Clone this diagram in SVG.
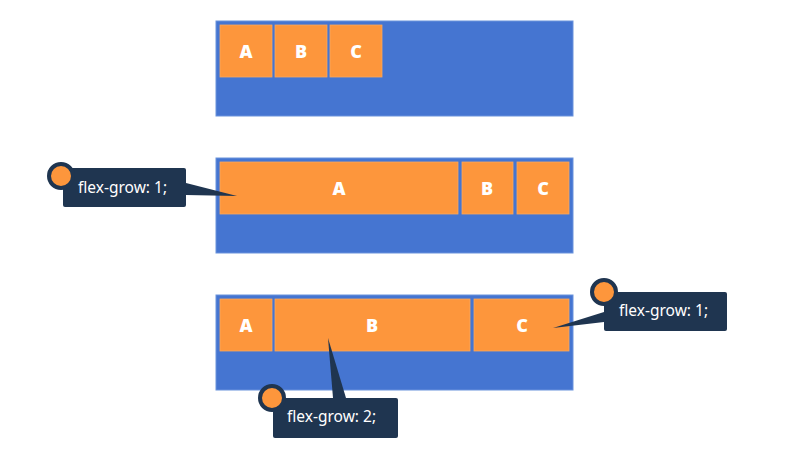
<svg xmlns="http://www.w3.org/2000/svg" width="801" height="452" viewBox="0 0 801 452">
<style>
.cont{fill:#4575d1;stroke:#6a93dc;stroke-width:1}
.item{fill:#fd963c;stroke:#f7a860;stroke-width:0.8}
.lbl{font-family:"Open Sans","Liberation Sans",sans-serif;font-weight:800;font-size:18px;fill:#ffffff;text-anchor:middle}
.box{fill:#1f3550}
.dot{fill:#fd963c;stroke:#1f3550;stroke-width:4}
.ct{font-family:"Noto Sans","Liberation Sans",sans-serif;font-size:15.5px;fill:#ffffff}
</style>
<rect width="801" height="452" fill="#ffffff"/>
<g id="container1">
<rect class="cont" x="216" y="21" width="357" height="95"/>
<g id="c1-A"><rect class="item" x="220" y="25" width="52" height="52"/><text class="lbl" x="246" y="58">A</text></g>
<g id="c1-B"><rect class="item" x="275" y="25" width="52" height="52"/><text class="lbl" x="301" y="58">B</text></g>
<g id="c1-C"><rect class="item" x="330" y="25" width="52" height="52"/><text class="lbl" x="356" y="58">C</text></g>
</g>
<g id="container2">
<rect class="cont" x="216" y="158" width="357" height="95"/>
<g id="c2-A"><rect class="item" x="220" y="162" width="238" height="52"/><text class="lbl" x="339" y="195">A</text></g>
<g id="c2-B"><rect class="item" x="462" y="162" width="51" height="52"/><text class="lbl" x="487" y="195">B</text></g>
<g id="c2-C"><rect class="item" x="517" y="162" width="52" height="52"/><text class="lbl" x="543" y="195">C</text></g>
</g>
<g id="container3">
<rect class="cont" x="216" y="295" width="357" height="95"/>
<g id="c3-A"><rect class="item" x="220" y="299" width="52" height="52"/><text class="lbl" x="246" y="332">A</text></g>
<g id="c3-B"><rect class="item" x="275" y="299" width="195" height="52"/><text class="lbl" x="372" y="332">B</text></g>
<g id="c3-C"><rect class="item" x="474" y="299" width="95" height="52"/><text class="lbl" x="522" y="332">C</text></g>
</g>
<g id="connectors">
<polygon class="box" points="186,183 237,196 186,195"/>
<polygon class="box" points="604,312 553,328 604,322"/>
<polygon class="box" points="328,338 333,398 346,398"/>
</g>
<g id="callout1">
<rect class="box" x="63" y="168" width="123" height="39" rx="2"/>
<circle class="dot" cx="61" cy="176" r="12"/>
<text class="ct" x="78" y="193">flex-grow: 1;</text>
</g>
<g id="callout2">
<rect class="box" x="604" y="292" width="123" height="39" rx="2"/>
<circle class="dot" cx="604" cy="292" r="12"/>
<text class="ct" x="619" y="316">flex-grow: 1;</text>
</g>
<g id="callout3">
<rect class="box" x="273" y="398" width="125" height="40" rx="2"/>
<circle class="dot" cx="272" cy="398" r="12"/>
<text class="ct" x="287" y="422">flex-grow: 2;</text>
</g>
</svg>
